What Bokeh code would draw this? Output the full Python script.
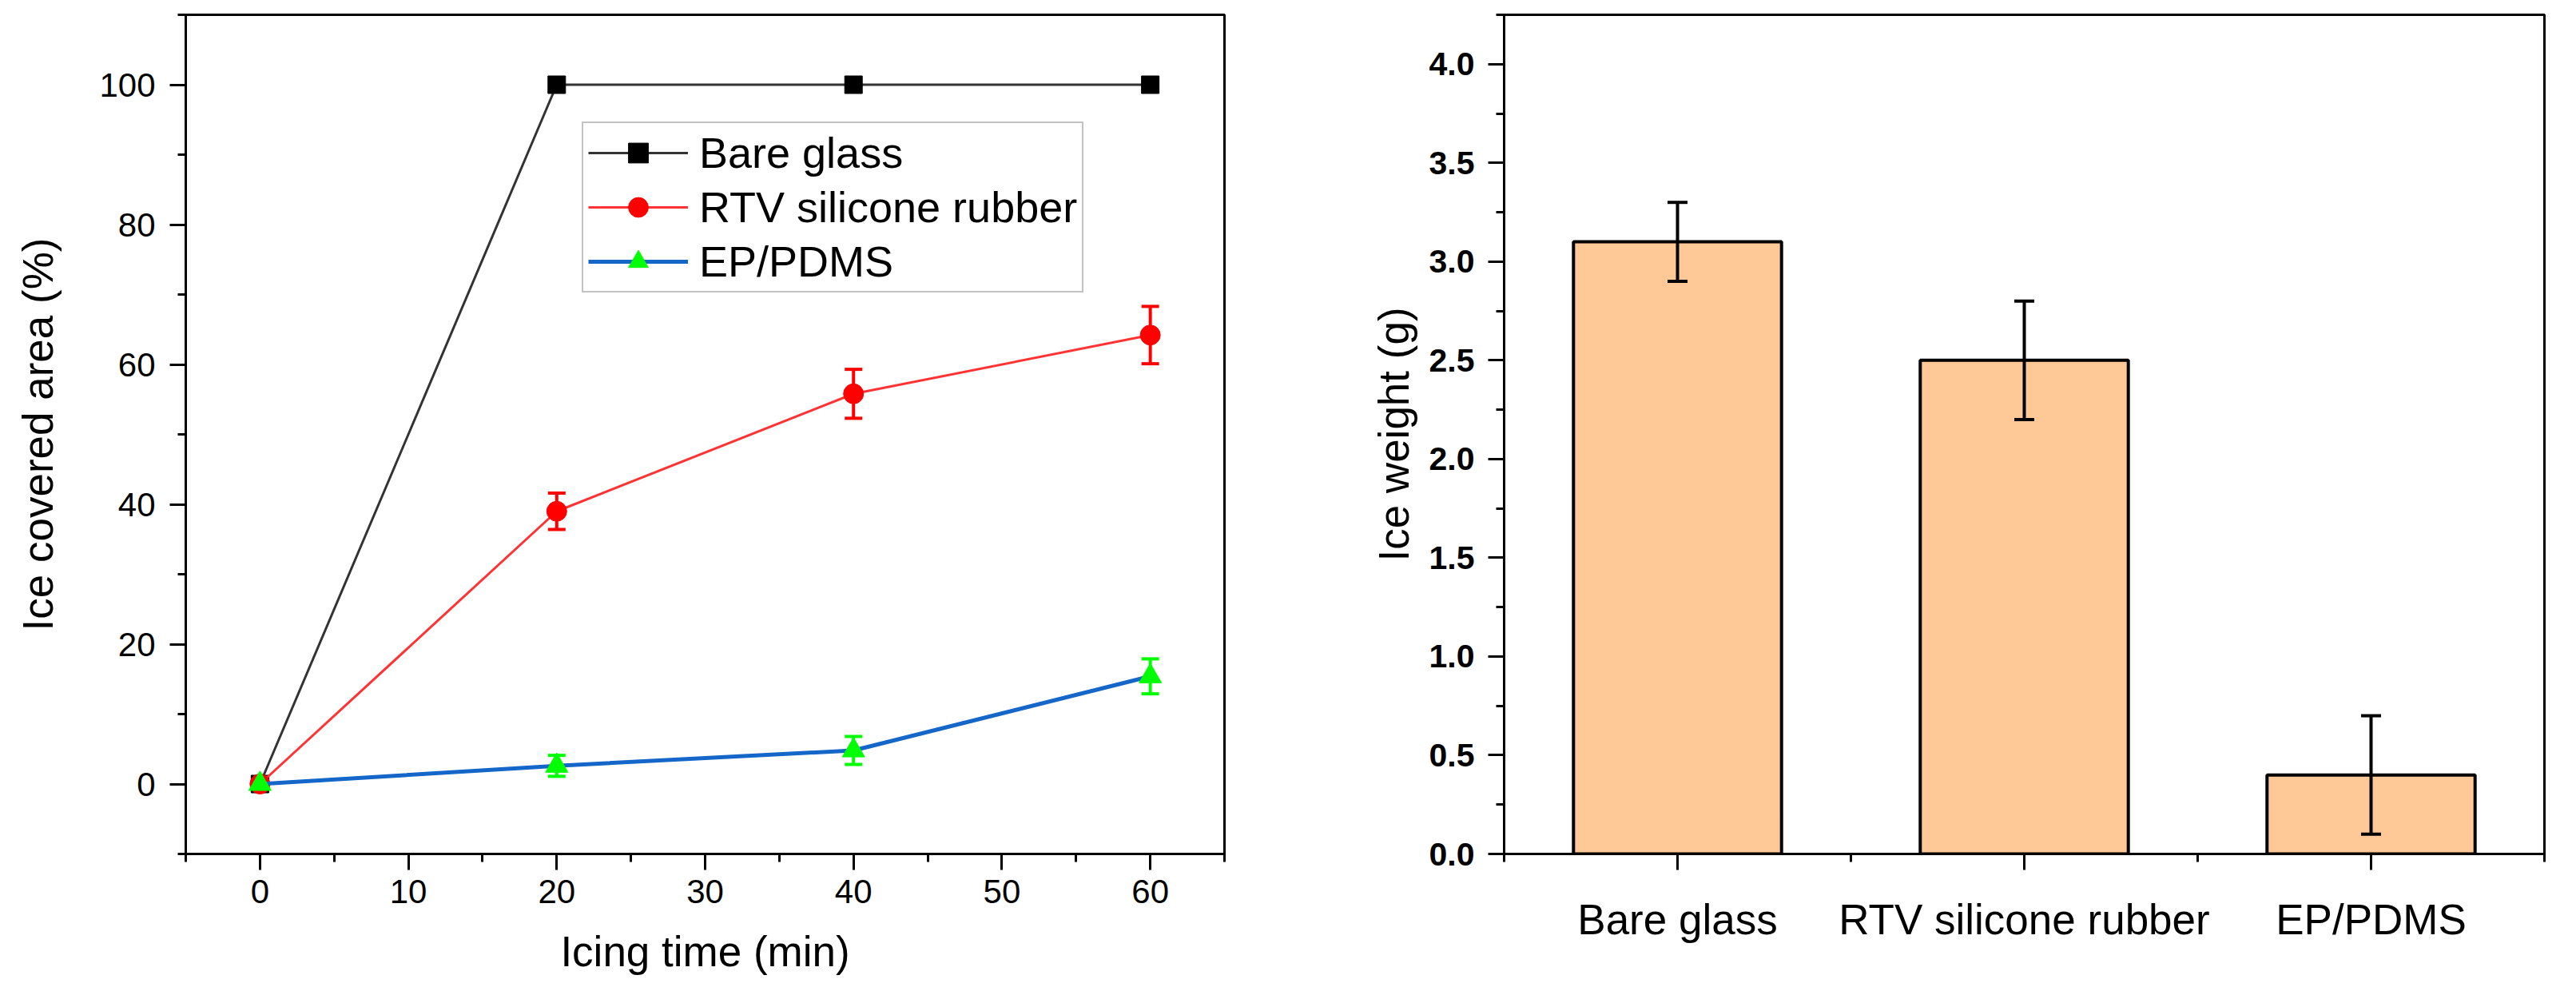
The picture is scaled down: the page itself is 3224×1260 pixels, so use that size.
from bokeh.plotting import figure
from bokeh.layouts import row
from bokeh.models import (ColumnDataSource, Whisker, TeeHead, Range1d,
                          SingleIntervalTicker, FixedTicker, NumeralTickFormatter)
from bokeh.embed import file_html
from bokeh.resources import INLINE

# Left panel: ice covered area vs icing time
icing_time = [0, 20, 40, 60]
bare_area = [0, 100, 100, 100]
rtv_area = [0, 39.0, 55.8, 64.2]
rtv_err = [0.8, 2.6, 3.5, 4.1]
ep_area = [0, 2.6, 4.8, 15.4]
ep_err = [0.6, 1.5, 2.0, 2.5]

# Right panel: ice weight per material
materials = ['Bare glass', 'RTV silicone rubber', 'EP/PDMS']
ice_weight = [3.1, 2.5, 0.4]
weight_err = [0.2, 0.3, 0.3]

FONT = "Liberation Sans"


def style_axes(p):
    p.outline_line_color = "black"
    p.outline_line_width = 3
    p.xgrid.visible = False
    p.ygrid.visible = False
    for ax in (p.xaxis, p.yaxis):
        ax.axis_line_width = 3
        ax.major_tick_line_width = 3
        ax.minor_tick_line_width = 3
        ax.major_tick_in = 0
        ax.major_tick_out = 20
        ax.minor_tick_in = 0
        ax.minor_tick_out = 10
        ax.major_label_text_font = FONT
        ax.major_label_text_color = "black"
        ax.axis_label_text_font = FONT
        ax.axis_label_text_font_style = "normal"
        ax.axis_label_text_font_size = "53px"
        ax.axis_label_text_color = "black"


# ---- line chart
p1 = figure(width=1552, height=1244, x_range=Range1d(-5, 65), y_range=Range1d(-10, 110),
            output_backend="svg", toolbar_location=None,
            min_border_left=232, min_border_right=20, min_border_top=18, min_border_bottom=176,
            x_axis_label="Icing time (min)", y_axis_label="Ice covered area (%)")
style_axes(p1)
p1.xaxis.ticker = SingleIntervalTicker(interval=10, num_minor_ticks=2)
p1.yaxis.ticker = SingleIntervalTicker(interval=20, num_minor_ticks=2)
p1.xaxis.major_label_text_font_size = "42px"
p1.yaxis.major_label_text_font_size = "42px"
p1.xaxis.major_label_standoff = 12
p1.yaxis.major_label_standoff = 18
p1.xaxis.axis_label_standoff = 28
p1.yaxis.axis_label_standoff = 44

p1.line(icing_time, bare_area, color="#333333", line_width=3, legend_label="Bare glass")
p1.scatter(icing_time, bare_area, marker="square", size=22, color="black", legend_label="Bare glass")

rtv_src = ColumnDataSource(dict(x=icing_time, y=rtv_area,
                                upper=[v + e for v, e in zip(rtv_area, rtv_err)],
                                lower=[v - e for v, e in zip(rtv_area, rtv_err)]))
p1.line('x', 'y', source=rtv_src, color="#FF3333", line_width=3, legend_label="RTV silicone rubber")
p1.add_layout(Whisker(source=rtv_src, base="x", upper="upper", lower="lower",
                      line_color="red", line_width=4,
                      upper_head=TeeHead(size=22, line_color="red", line_width=4),
                      lower_head=TeeHead(size=22, line_color="red", line_width=4)))
p1.scatter('x', 'y', source=rtv_src, marker="circle", size=25, color="#FF0000",
           legend_label="RTV silicone rubber")

ep_src = ColumnDataSource(dict(x=icing_time, y=ep_area,
                               upper=[v + e for v, e in zip(ep_area, ep_err)],
                               lower=[v - e for v, e in zip(ep_area, ep_err)]))
p1.line('x', 'y', source=ep_src, color="#1466C8", line_width=5, legend_label="EP/PDMS")
p1.add_layout(Whisker(source=ep_src, base="x", upper="upper", lower="lower",
                      line_color="#00FF00", line_width=4,
                      upper_head=TeeHead(size=22, line_color="#00FF00", line_width=4),
                      lower_head=TeeHead(size=22, line_color="#00FF00", line_width=4)))
p1.scatter('x', 'y', source=ep_src, marker="triangle", size=28, color="#00FF00",
           legend_label="EP/PDMS")

lg = p1.legend[0]
lg.location = (496, 702)
lg.border_line_color = "#888888"
lg.border_line_width = 2
lg.background_fill_alpha = 1
lg.label_text_font = FONT
lg.label_text_font_size = "54px"
lg.label_text_color = "black"
lg.glyph_width = 125
lg.glyph_height = 62
lg.label_height = 62
lg.label_standoff = 14
lg.spacing = 6
lg.padding = 6
lg.margin = 0

# ---- bar chart
positions = list(range(1, len(materials) + 1))
p2 = figure(width=1644, height=1244, x_range=Range1d(0.5, 3.5), y_range=Range1d(0, 4.25),
            output_backend="svg", toolbar_location=None,
            min_border_left=330, min_border_right=12, min_border_top=18, min_border_bottom=174,
            y_axis_label="Ice weight (g)")
style_axes(p2)
p2.xaxis.ticker = FixedTicker(ticks=positions, minor_ticks=[0.5, 1.5, 2.5, 3.5])
p2.xaxis.major_label_overrides = {i: m for i, m in zip(positions, materials)}
p2.xaxis.major_label_text_font_size = "53px"
p2.xaxis.major_label_standoff = 32
p2.yaxis.ticker = SingleIntervalTicker(interval=0.5, num_minor_ticks=2)
p2.yaxis.formatter = NumeralTickFormatter(format="0.0")
p2.yaxis.major_label_text_font_size = "41px"
p2.yaxis.major_label_text_font_style = "bold"
p2.yaxis.major_label_standoff = 17
p2.yaxis.axis_label_standoff = 12

bar_src = ColumnDataSource(dict(x=positions, top=ice_weight,
                                upper=[v + e for v, e in zip(ice_weight, weight_err)],
                                lower=[v - e for v, e in zip(ice_weight, weight_err)]))
p2.vbar(x='x', top='top', width=0.6, source=bar_src, fill_color="#FFC896",
        line_color="black", line_width=4)
p2.add_layout(Whisker(source=bar_src, base="x", upper="upper", lower="lower",
                      line_color="black", line_width=4, level="annotation",
                      upper_head=TeeHead(size=25, line_color="black", line_width=4),
                      lower_head=TeeHead(size=25, line_color="black", line_width=4)))

layout = row(p1, p2)
open("out.html", "w").write(file_html(layout, INLINE))
